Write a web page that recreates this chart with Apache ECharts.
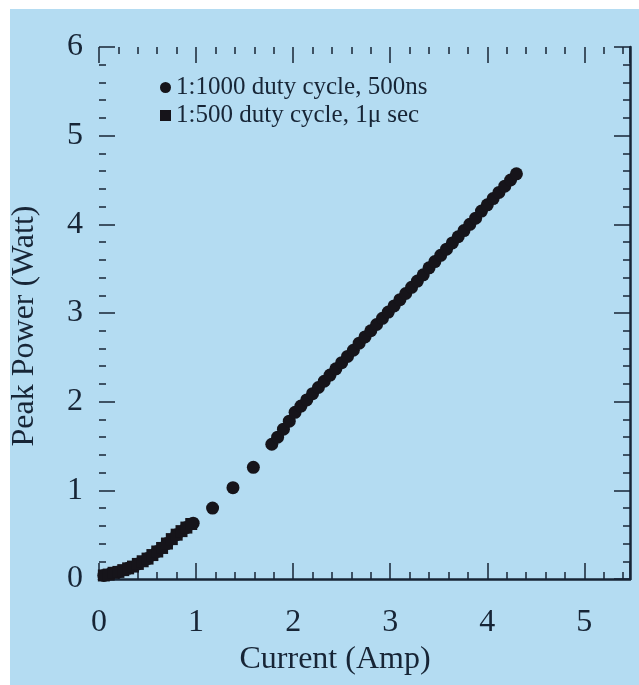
<!DOCTYPE html>
<html>
<head>
<meta charset="utf-8">
<script src="https://cdn.jsdelivr.net/npm/echarts@6/dist/echarts.min.js"></script>
<style>
html,body{margin:0;padding:0;background:#ffffff;}
#wrap{position:relative;width:639px;height:685px;overflow:hidden;}
#bg{position:absolute;left:10px;top:9px;right:0;bottom:0;background:#b4dcf2;}
#chart{position:absolute;left:0;top:0;width:639px;height:685px;}
</style>
</head>
<body>
<div id="wrap"><div id="bg"></div><div id="chart"></div></div>
<script>
// ---- data ----
const seriesNames = ['1:1000 duty cycle, 500ns', '1:500 duty cycle, 1\u03bc sec'];
const xTickLabels = ['0', '1', '2', '3', '4', '5'];
const yTickLabels = ['0', '1', '2', '3', '4', '5', '6'];

// 1:1000 duty cycle, 500 ns (circles)
const currentA = [0.05, 0.12, 0.20, 0.30, 0.40, 0.50, 0.60, 0.70, 0.80, 0.90, 0.97,
  1.17, 1.38, 1.59,
  1.78, 1.84, 1.90, 1.96, 2.02, 2.08, 2.14, 2.20, 2.26, 2.32, 2.38, 2.44, 2.50,
  2.56, 2.62, 2.68, 2.74, 2.80, 2.86, 2.92, 2.98, 3.04, 3.10, 3.16, 3.22, 3.28,
  3.34, 3.40, 3.46, 3.52, 3.58, 3.64, 3.70, 3.76, 3.82, 3.88, 3.94, 4.00, 4.06,
  4.12, 4.18, 4.24, 4.30];
const powerA = [0.04, 0.06, 0.08, 0.12, 0.17, 0.23, 0.31, 0.40, 0.50, 0.58, 0.63,
  0.80, 1.03, 1.26,
  1.52, 1.60, 1.69, 1.78, 1.88, 1.95, 2.02, 2.09, 2.16, 2.23, 2.30, 2.37, 2.44,
  2.51, 2.58, 2.66, 2.73, 2.80, 2.87, 2.94, 3.01, 3.08, 3.15, 3.22, 3.29, 3.36,
  3.43, 3.51, 3.58, 3.65, 3.72, 3.79, 3.86, 3.93, 4.00, 4.07, 4.15, 4.22, 4.29,
  4.36, 4.43, 4.50, 4.57];

// 1:500 duty cycle, 1 us (squares)
const currentB = [0.05, 0.10, 0.15, 0.20, 0.25, 0.30, 0.35, 0.40, 0.45, 0.50,
  0.55, 0.60, 0.65, 0.70, 0.75, 0.80, 0.85, 0.90, 0.95];
const powerB = [0.04, 0.05, 0.07, 0.08, 0.10, 0.12, 0.14, 0.17, 0.20, 0.23,
  0.27, 0.31, 0.35, 0.40, 0.45, 0.50, 0.54, 0.58, 0.62];

const xMin = 0, xMax = 5.47, yMin = 0, yMax = 6;

// ---- chart ----
const ink = '#172536';
const serif = '"Liberation Serif", "DejaVu Serif", serif';
const pairs = (xs, ys) => xs.map((x, i) => [x, ys[i]]);

const chart = echarts.init(document.getElementById('chart'), null, {renderer: 'canvas'});

const tickFmt = (labels) => (v) => {
  const s = String(Math.round(v));
  return (Math.abs(v - Math.round(v)) < 1e-6 && labels.indexOf(s) >= 0) ? s : '';
};

const baseX = {
  type: 'value', min: xMin, max: xMax, interval: 1,
  splitLine: {show: false},
  axisTick: {show: true, inside: true, length: 16, lineStyle: {color: ink, width: 1.5}},
  minorTick: {show: true, splitNumber: 5, length: 7, lineStyle: {color: ink, width: 1.5}},
  minorSplitLine: {show: false}
};
const baseY = {
  type: 'value', min: yMin, max: yMax, interval: 1,
  splitLine: {show: false},
  axisTick: {show: true, inside: true, length: 16, lineStyle: {color: ink, width: 1.5}},
  minorTick: {show: true, splitNumber: 5, length: 7, lineStyle: {color: ink, width: 1.5}},
  minorSplitLine: {show: false}
};

chart.setOption({
  backgroundColor: 'transparent',
  animation: false,
  grid: {left: 99, right: 9, top: 47, bottom: 106, containLabel: false},
  legend: {
    orient: 'vertical', left: 155, top: 70, itemGap: 3,
    itemWidth: 11, itemHeight: 11,
    textStyle: {fontFamily: serif, fontSize: 25, color: ink},
    data: [
      {name: seriesNames[0], icon: 'circle'},
      {name: seriesNames[1], icon: 'rect'}
    ]
  },
  xAxis: [
    Object.assign({}, baseX, {
      position: 'bottom',
      axisLine: {show: true, onZero: false, lineStyle: {color: ink, width: 2.5}},
      axisLabel: {show: true, margin: 28, fontFamily: serif, fontSize: 32, color: ink,
        formatter: tickFmt(xTickLabels), showMaxLabel: false}
    }),
    Object.assign({}, baseX, {
      position: 'top',
      axisLine: {show: false, onZero: false},
      axisLabel: {show: false}
    })
  ],
  yAxis: [
    Object.assign({}, baseY, {
      position: 'left',
      axisLine: {show: false, onZero: false},
      axisLabel: {show: true, margin: 16, fontFamily: serif, fontSize: 32, color: ink,
        formatter: tickFmt(yTickLabels)}
    }),
    Object.assign({}, baseY, {
      position: 'right',
      axisLine: {show: true, onZero: false, lineStyle: {color: ink, width: 2.5}},
      axisLabel: {show: false}
    })
  ],
  graphic: [
    {type: 'text', x: 335, y: 660, style: {text: 'Current (Amp)', font: '32px ' + serif,
      fill: ink, align: 'center', verticalAlign: 'middle'}},
    {type: 'text', x: 25, y: 326, rotation: Math.PI / 2, style: {text: 'Peak Power (Watt)',
      font: '32px ' + serif, fill: ink, align: 'center', verticalAlign: 'middle'}}
  ],
  series: [
    {name: seriesNames[0], type: 'scatter', symbol: 'circle', symbolSize: 13,
      itemStyle: {color: '#16141a', opacity: 1}, data: pairs(currentA, powerA)},
    {name: seriesNames[1], type: 'scatter', symbol: 'rect', symbolSize: 12,
      itemStyle: {color: '#16141a', opacity: 1}, data: pairs(currentB, powerB)}
  ]
});
</script>
</body>
</html>
